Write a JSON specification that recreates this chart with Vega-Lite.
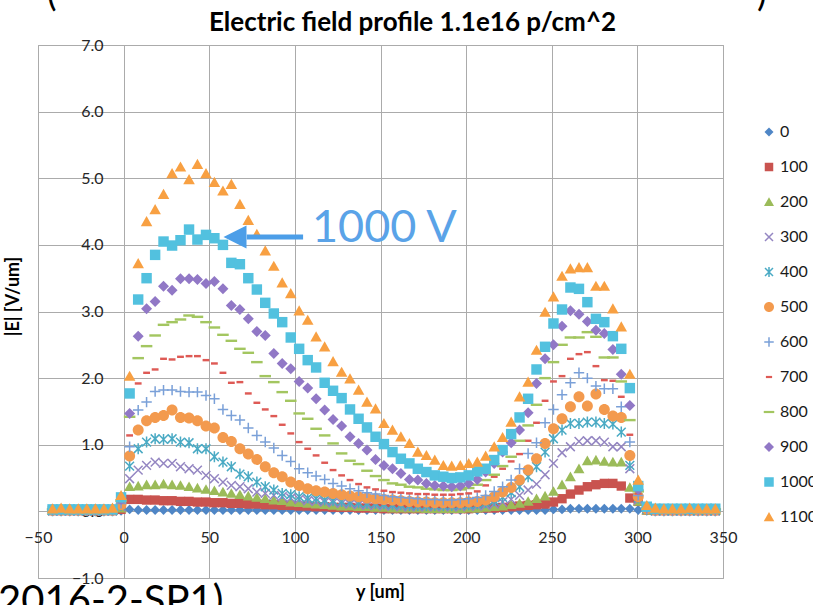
{
"$schema":"https://vega.github.io/schema/vega-lite/v6.json",
"width":685,"height":533,
"autosize":{"type":"none"},
"padding":{"left":38,"top":45,"right":90,"bottom":27},
"background":"white",
"title":{"text":"Electric field profile 1.1e16 p/cm^2","fontSize":26,"font":"Lato","fontWeight":"bold","color":"#000000","anchor":"middle","frame":"group","dx":32,"offset":-59},
"config":{"view":{"stroke":"#A6A6A6","strokeWidth":1},"font":"Lato"},
"layer":[
{"data":{"values":[
{"s":"0","x":-41.5,"y":0},{"s":"0","x":-36.5,"y":0},{"s":"0","x":-31.5,"y":0},{"s":"0","x":-26.5,"y":0},{"s":"0","x":-21.5,"y":0},{"s":"0","x":-16.5,"y":0},{"s":"0","x":-11.5,"y":0},{"s":"0","x":-6.5,"y":0},{"s":"0","x":-1.5,"y":0.01},
{"s":"0","x":3.5,"y":0.03},{"s":"0","x":8.5,"y":0.02},{"s":"0","x":13.4,"y":0.02},{"s":"0","x":18.4,"y":0.02},{"s":"0","x":23.3,"y":0.02},{"s":"0","x":28.3,"y":0.02},{"s":"0","x":33.2,"y":0.02},{"s":"0","x":38.2,"y":0.02},{"s":"0","x":43.1,"y":0.02},{"s":"0","x":48.1,"y":0.02},
{"s":"0","x":53,"y":0.02},{"s":"0","x":58,"y":0.02},{"s":"0","x":62.9,"y":0.02},{"s":"0","x":67.9,"y":0.02},{"s":"0","x":72.8,"y":0.02},{"s":"0","x":77.8,"y":0.02},{"s":"0","x":82.7,"y":0.02},{"s":"0","x":87.7,"y":0.02},{"s":"0","x":92.6,"y":0.02},{"s":"0","x":97.6,"y":0.02},
{"s":"0","x":102.5,"y":0.02},{"s":"0","x":107.5,"y":0.02},{"s":"0","x":112.4,"y":0.02},{"s":"0","x":117.4,"y":0.02},{"s":"0","x":122.3,"y":0.02},{"s":"0","x":127.3,"y":0.02},{"s":"0","x":132.2,"y":0.02},{"s":"0","x":137.2,"y":0.02},{"s":"0","x":142.1,"y":0.02},{"s":"0","x":147.1,"y":0.02},
{"s":"0","x":152,"y":0.02},{"s":"0","x":157,"y":0.02},{"s":"0","x":161.9,"y":0.02},{"s":"0","x":166.9,"y":0.02},{"s":"0","x":171.8,"y":0.02},{"s":"0","x":176.8,"y":0.02},{"s":"0","x":181.7,"y":0.02},{"s":"0","x":186.7,"y":0.02},{"s":"0","x":191.6,"y":0.02},{"s":"0","x":196.6,"y":0.02},
{"s":"0","x":201.5,"y":0.02},{"s":"0","x":206.5,"y":0.02},{"s":"0","x":211.4,"y":0.02},{"s":"0","x":216.4,"y":0.02},{"s":"0","x":221.3,"y":0.02},{"s":"0","x":226.3,"y":0.02},{"s":"0","x":231.2,"y":0.02},{"s":"0","x":236.2,"y":0.02},{"s":"0","x":241.1,"y":0.02},{"s":"0","x":246.1,"y":0.02},
{"s":"0","x":251,"y":0.03},{"s":"0","x":256,"y":0.03},{"s":"0","x":260.9,"y":0.04},{"s":"0","x":265.9,"y":0.04},{"s":"0","x":270.8,"y":0.04},{"s":"0","x":275.8,"y":0.04},{"s":"0","x":280.7,"y":0.04},{"s":"0","x":285.7,"y":0.04},{"s":"0","x":290.6,"y":0.04},{"s":"0","x":295.6,"y":0.04},
{"s":"0","x":300.5,"y":0.02},
{"s":"0","x":305.5,"y":0.01},{"s":"0","x":310.5,"y":0},{"s":"0","x":315.5,"y":0},{"s":"0","x":320.5,"y":0},{"s":"0","x":325.5,"y":0},{"s":"0","x":330.5,"y":0},{"s":"0","x":335.5,"y":0},{"s":"0","x":340.5,"y":0},{"s":"0","x":345.5,"y":0},

{"s":"100","x":-41.5,"y":0.01},{"s":"100","x":-36.5,"y":0.01},{"s":"100","x":-31.5,"y":0.01},{"s":"100","x":-26.5,"y":0.01},{"s":"100","x":-21.5,"y":0.01},{"s":"100","x":-16.5,"y":0.01},{"s":"100","x":-11.5,"y":0.01},{"s":"100","x":-6.5,"y":0.01},{"s":"100","x":-1.5,"y":0.03},
{"s":"100","x":3.5,"y":0.18},{"s":"100","x":8.5,"y":0.18},{"s":"100","x":13.4,"y":0.17},{"s":"100","x":18.4,"y":0.17},{"s":"100","x":23.3,"y":0.16},{"s":"100","x":28.3,"y":0.16},{"s":"100","x":33.2,"y":0.15},{"s":"100","x":38.2,"y":0.15},{"s":"100","x":43.1,"y":0.14},{"s":"100","x":48.1,"y":0.14},
{"s":"100","x":53,"y":0.13},{"s":"100","x":58,"y":0.13},{"s":"100","x":62.9,"y":0.12},{"s":"100","x":67.9,"y":0.12},{"s":"100","x":72.8,"y":0.11},{"s":"100","x":77.8,"y":0.11},{"s":"100","x":82.7,"y":0.1},{"s":"100","x":87.7,"y":0.1},{"s":"100","x":92.6,"y":0.09},{"s":"100","x":97.6,"y":0.09},
{"s":"100","x":102.5,"y":0.08},{"s":"100","x":107.5,"y":0.08},{"s":"100","x":112.4,"y":0.07},{"s":"100","x":117.4,"y":0.07},{"s":"100","x":122.3,"y":0.06},{"s":"100","x":127.3,"y":0.06},{"s":"100","x":132.2,"y":0.06},{"s":"100","x":137.2,"y":0.05},{"s":"100","x":142.1,"y":0.05},{"s":"100","x":147.1,"y":0.05},
{"s":"100","x":152,"y":0.04},{"s":"100","x":157,"y":0.04},{"s":"100","x":161.9,"y":0.04},{"s":"100","x":166.9,"y":0.04},{"s":"100","x":171.8,"y":0.04},{"s":"100","x":176.8,"y":0.04},{"s":"100","x":181.7,"y":0.04},{"s":"100","x":186.7,"y":0.04},{"s":"100","x":191.6,"y":0.04},{"s":"100","x":196.6,"y":0.04},
{"s":"100","x":201.5,"y":0.04},{"s":"100","x":206.5,"y":0.05},{"s":"100","x":211.4,"y":0.05},{"s":"100","x":216.4,"y":0.05},{"s":"100","x":221.3,"y":0.06},{"s":"100","x":226.3,"y":0.07},{"s":"100","x":231.2,"y":0.08},{"s":"100","x":236.2,"y":0.09},{"s":"100","x":241.1,"y":0.1},{"s":"100","x":246.1,"y":0.11},
{"s":"100","x":251,"y":0.14},{"s":"100","x":256,"y":0.19},{"s":"100","x":260.9,"y":0.26},{"s":"100","x":265.9,"y":0.32},{"s":"100","x":270.8,"y":0.37},{"s":"100","x":275.8,"y":0.4},{"s":"100","x":280.7,"y":0.42},{"s":"100","x":285.7,"y":0.42},{"s":"100","x":290.6,"y":0.38},{"s":"100","x":295.6,"y":0.2},
{"s":"100","x":300.5,"y":0.15},
{"s":"100","x":305.5,"y":0.02},{"s":"100","x":310.5,"y":0.01},{"s":"100","x":315.5,"y":0.01},{"s":"100","x":320.5,"y":0.01},{"s":"100","x":325.5,"y":0.01},{"s":"100","x":330.5,"y":0.01},{"s":"100","x":335.5,"y":0.01},{"s":"100","x":340.5,"y":0.01},{"s":"100","x":345.5,"y":0.01},

{"s":"200","x":-41.5,"y":0.01},{"s":"200","x":-36.5,"y":0.01},{"s":"200","x":-31.5,"y":0.01},{"s":"200","x":-26.5,"y":0.01},{"s":"200","x":-21.5,"y":0.01},{"s":"200","x":-16.5,"y":0.01},{"s":"200","x":-11.5,"y":0.01},{"s":"200","x":-6.5,"y":0.01},{"s":"200","x":-1.5,"y":0.05},
{"s":"200","x":3.5,"y":0.37},{"s":"200","x":8.5,"y":0.38},{"s":"200","x":13.4,"y":0.4},{"s":"200","x":18.4,"y":0.4},{"s":"200","x":23.3,"y":0.41},{"s":"200","x":28.3,"y":0.4},{"s":"200","x":33.2,"y":0.39},{"s":"200","x":38.2,"y":0.37},{"s":"200","x":43.1,"y":0.35},{"s":"200","x":48.1,"y":0.33},
{"s":"200","x":53,"y":0.31},{"s":"200","x":58,"y":0.29},{"s":"200","x":62.9,"y":0.27},{"s":"200","x":67.9,"y":0.25},{"s":"200","x":72.8,"y":0.23},{"s":"200","x":77.8,"y":0.21},{"s":"200","x":82.7,"y":0.19},{"s":"200","x":87.7,"y":0.17},{"s":"200","x":92.6,"y":0.16},{"s":"200","x":97.6,"y":0.14},
{"s":"200","x":102.5,"y":0.13},{"s":"200","x":107.5,"y":0.12},{"s":"200","x":112.4,"y":0.11},{"s":"200","x":117.4,"y":0.1},{"s":"200","x":122.3,"y":0.09},{"s":"200","x":127.3,"y":0.08},{"s":"200","x":132.2,"y":0.08},{"s":"200","x":137.2,"y":0.07},{"s":"200","x":142.1,"y":0.07},{"s":"200","x":147.1,"y":0.06},
{"s":"200","x":152,"y":0.06},{"s":"200","x":157,"y":0.05},{"s":"200","x":161.9,"y":0.05},{"s":"200","x":166.9,"y":0.05},{"s":"200","x":171.8,"y":0.05},{"s":"200","x":176.8,"y":0.04},{"s":"200","x":181.7,"y":0.04},{"s":"200","x":186.7,"y":0.04},{"s":"200","x":191.6,"y":0.04},{"s":"200","x":196.6,"y":0.04},
{"s":"200","x":201.5,"y":0.05},{"s":"200","x":206.5,"y":0.05},{"s":"200","x":211.4,"y":0.06},{"s":"200","x":216.4,"y":0.07},{"s":"200","x":221.3,"y":0.08},{"s":"200","x":226.3,"y":0.1},{"s":"200","x":231.2,"y":0.12},{"s":"200","x":236.2,"y":0.15},{"s":"200","x":241.1,"y":0.19},{"s":"200","x":246.1,"y":0.23},
{"s":"200","x":251,"y":0.3},{"s":"200","x":256,"y":0.4},{"s":"200","x":260.9,"y":0.52},{"s":"200","x":265.9,"y":0.64},{"s":"200","x":270.8,"y":0.76},{"s":"200","x":275.8,"y":0.77},{"s":"200","x":280.7,"y":0.75},{"s":"200","x":285.7,"y":0.74},{"s":"200","x":290.6,"y":0.74},{"s":"200","x":295.6,"y":0.36},
{"s":"200","x":300.5,"y":0.15},
{"s":"200","x":305.5,"y":0.02},{"s":"200","x":310.5,"y":0.01},{"s":"200","x":315.5,"y":0.01},{"s":"200","x":320.5,"y":0.01},{"s":"200","x":325.5,"y":0.01},{"s":"200","x":330.5,"y":0.01},{"s":"200","x":335.5,"y":0.01},{"s":"200","x":340.5,"y":0.01},{"s":"200","x":345.5,"y":0.01},

{"s":"300","x":-41.5,"y":0.01},{"s":"300","x":-36.5,"y":0.01},{"s":"300","x":-31.5,"y":0.01},{"s":"300","x":-26.5,"y":0.01},{"s":"300","x":-21.5,"y":0.01},{"s":"300","x":-16.5,"y":0.01},{"s":"300","x":-11.5,"y":0.01},{"s":"300","x":-6.5,"y":0.01},{"s":"300","x":-1.5,"y":0.07},
{"s":"300","x":3.5,"y":0.49},{"s":"300","x":8.5,"y":0.62},{"s":"300","x":13.4,"y":0.69},{"s":"300","x":18.4,"y":0.74},{"s":"300","x":23.3,"y":0.72},{"s":"300","x":28.3,"y":0.72},{"s":"300","x":33.2,"y":0.67},{"s":"300","x":38.2,"y":0.64},{"s":"300","x":43.1,"y":0.62},{"s":"300","x":48.1,"y":0.54},
{"s":"300","x":53,"y":0.49},{"s":"300","x":58,"y":0.44},{"s":"300","x":62.9,"y":0.39},{"s":"300","x":67.9,"y":0.37},{"s":"300","x":72.8,"y":0.34},{"s":"300","x":77.8,"y":0.29},{"s":"300","x":82.7,"y":0.27},{"s":"300","x":87.7,"y":0.24},{"s":"300","x":92.6,"y":0.22},{"s":"300","x":97.6,"y":0.2},
{"s":"300","x":102.5,"y":0.18},{"s":"300","x":107.5,"y":0.16},{"s":"300","x":112.4,"y":0.15},{"s":"300","x":117.4,"y":0.14},{"s":"300","x":122.3,"y":0.13},{"s":"300","x":127.3,"y":0.12},{"s":"300","x":132.2,"y":0.11},{"s":"300","x":137.2,"y":0.1},{"s":"300","x":142.1,"y":0.09},{"s":"300","x":147.1,"y":0.09},
{"s":"300","x":152,"y":0.08},{"s":"300","x":157,"y":0.08},{"s":"300","x":161.9,"y":0.07},{"s":"300","x":166.9,"y":0.07},{"s":"300","x":171.8,"y":0.07},{"s":"300","x":176.8,"y":0.07},{"s":"300","x":181.7,"y":0.07},{"s":"300","x":186.7,"y":0.07},{"s":"300","x":191.6,"y":0.07},{"s":"300","x":196.6,"y":0.07},
{"s":"300","x":201.5,"y":0.08},{"s":"300","x":206.5,"y":0.08},{"s":"300","x":211.4,"y":0.09},{"s":"300","x":216.4,"y":0.11},{"s":"300","x":221.3,"y":0.14},{"s":"300","x":226.3,"y":0.18},{"s":"300","x":231.2,"y":0.24},{"s":"300","x":236.2,"y":0.32},{"s":"300","x":241.1,"y":0.41},{"s":"300","x":246.1,"y":0.55},
{"s":"300","x":251,"y":0.72},{"s":"300","x":256,"y":0.88},{"s":"300","x":260.9,"y":0.97},{"s":"300","x":265.9,"y":1.05},{"s":"300","x":270.8,"y":1.06},{"s":"300","x":275.8,"y":1.06},{"s":"300","x":280.7,"y":1.04},{"s":"300","x":285.7,"y":0.97},{"s":"300","x":290.6,"y":0.97},{"s":"300","x":295.6,"y":0.64},
{"s":"300","x":300.5,"y":0.17},
{"s":"300","x":305.5,"y":0.03},{"s":"300","x":310.5,"y":0.01},{"s":"300","x":315.5,"y":0.01},{"s":"300","x":320.5,"y":0.01},{"s":"300","x":325.5,"y":0.01},{"s":"300","x":330.5,"y":0.01},{"s":"300","x":335.5,"y":0.01},{"s":"300","x":340.5,"y":0.01},{"s":"300","x":345.5,"y":0.01},

{"s":"400","x":-41.5,"y":0.01},{"s":"400","x":-36.5,"y":0.01},{"s":"400","x":-31.5,"y":0.01},{"s":"400","x":-26.5,"y":0.01},{"s":"400","x":-21.5,"y":0.01},{"s":"400","x":-16.5,"y":0.01},{"s":"400","x":-11.5,"y":0.01},{"s":"400","x":-6.5,"y":0.01},{"s":"400","x":-1.5,"y":0.09},
{"s":"400","x":3.5,"y":0.68},{"s":"400","x":8.5,"y":0.94},{"s":"400","x":13.4,"y":1.04},{"s":"400","x":18.4,"y":1.09},{"s":"400","x":23.3,"y":1.08},{"s":"400","x":28.3,"y":1.09},{"s":"400","x":33.2,"y":1.04},{"s":"400","x":38.2,"y":1.03},{"s":"400","x":43.1,"y":0.94},{"s":"400","x":48.1,"y":0.94},
{"s":"400","x":53,"y":0.82},{"s":"400","x":58,"y":0.74},{"s":"400","x":62.9,"y":0.67},{"s":"400","x":67.9,"y":0.56},{"s":"400","x":72.8,"y":0.52},{"s":"400","x":77.8,"y":0.44},{"s":"400","x":82.7,"y":0.37},{"s":"400","x":87.7,"y":0.32},{"s":"400","x":92.6,"y":0.27},{"s":"400","x":97.6,"y":0.25},
{"s":"400","x":102.5,"y":0.22},{"s":"400","x":107.5,"y":0.2},{"s":"400","x":112.4,"y":0.19},{"s":"400","x":117.4,"y":0.17},{"s":"400","x":122.3,"y":0.16},{"s":"400","x":127.3,"y":0.15},{"s":"400","x":132.2,"y":0.14},{"s":"400","x":137.2,"y":0.13},{"s":"400","x":142.1,"y":0.12},{"s":"400","x":147.1,"y":0.12},
{"s":"400","x":152,"y":0.11},{"s":"400","x":157,"y":0.1},{"s":"400","x":161.9,"y":0.1},{"s":"400","x":166.9,"y":0.09},{"s":"400","x":171.8,"y":0.09},{"s":"400","x":176.8,"y":0.09},{"s":"400","x":181.7,"y":0.09},{"s":"400","x":186.7,"y":0.09},{"s":"400","x":191.6,"y":0.09},{"s":"400","x":196.6,"y":0.1},
{"s":"400","x":201.5,"y":0.1},{"s":"400","x":206.5,"y":0.11},{"s":"400","x":211.4,"y":0.13},{"s":"400","x":216.4,"y":0.16},{"s":"400","x":221.3,"y":0.21},{"s":"400","x":226.3,"y":0.28},{"s":"400","x":231.2,"y":0.37},{"s":"400","x":236.2,"y":0.52},{"s":"400","x":241.1,"y":0.67},{"s":"400","x":246.1,"y":0.89},
{"s":"400","x":251,"y":1.09},{"s":"400","x":256,"y":1.22},{"s":"400","x":260.9,"y":1.32},{"s":"400","x":265.9,"y":1.32},{"s":"400","x":270.8,"y":1.34},{"s":"400","x":275.8,"y":1.34},{"s":"400","x":280.7,"y":1.32},{"s":"400","x":285.7,"y":1.31},{"s":"400","x":290.6,"y":1.19},{"s":"400","x":295.6,"y":0.69},
{"s":"400","x":300.5,"y":0.2},
{"s":"400","x":305.5,"y":0.03},{"s":"400","x":310.5,"y":0.01},{"s":"400","x":315.5,"y":0.01},{"s":"400","x":320.5,"y":0.01},{"s":"400","x":325.5,"y":0.01},{"s":"400","x":330.5,"y":0.01},{"s":"400","x":335.5,"y":0.01},{"s":"400","x":340.5,"y":0.01},{"s":"400","x":345.5,"y":0.01},

{"s":"500","x":-41.5,"y":0.02},{"s":"500","x":-36.5,"y":0.02},{"s":"500","x":-31.5,"y":0.02},{"s":"500","x":-26.5,"y":0.02},{"s":"500","x":-21.5,"y":0.02},{"s":"500","x":-16.5,"y":0.02},{"s":"500","x":-11.5,"y":0.02},{"s":"500","x":-6.5,"y":0.02},{"s":"500","x":-1.5,"y":0.1},
{"s":"500","x":3.5,"y":0.83},{"s":"500","x":8.5,"y":1.22},{"s":"500","x":13.4,"y":1.36},{"s":"500","x":18.4,"y":1.41},{"s":"500","x":23.3,"y":1.44},{"s":"500","x":28.3,"y":1.52},{"s":"500","x":33.2,"y":1.41},{"s":"500","x":38.2,"y":1.4},{"s":"500","x":43.1,"y":1.36},{"s":"500","x":48.1,"y":1.28},
{"s":"500","x":53,"y":1.25},{"s":"500","x":58,"y":1.11},{"s":"500","x":62.9,"y":1.05},{"s":"500","x":67.9,"y":0.94},{"s":"500","x":72.8,"y":0.86},{"s":"500","x":77.8,"y":0.78},{"s":"500","x":82.7,"y":0.67},{"s":"500","x":87.7,"y":0.58},{"s":"500","x":92.6,"y":0.52},{"s":"500","x":97.6,"y":0.44},
{"s":"500","x":102.5,"y":0.39},{"s":"500","x":107.5,"y":0.34},{"s":"500","x":112.4,"y":0.31},{"s":"500","x":117.4,"y":0.29},{"s":"500","x":122.3,"y":0.27},{"s":"500","x":127.3,"y":0.25},{"s":"500","x":132.2,"y":0.23},{"s":"500","x":137.2,"y":0.22},{"s":"500","x":142.1,"y":0.2},{"s":"500","x":147.1,"y":0.19},
{"s":"500","x":152,"y":0.18},{"s":"500","x":157,"y":0.17},{"s":"500","x":161.9,"y":0.16},{"s":"500","x":166.9,"y":0.15},{"s":"500","x":171.8,"y":0.14},{"s":"500","x":176.8,"y":0.14},{"s":"500","x":181.7,"y":0.13},{"s":"500","x":186.7,"y":0.13},{"s":"500","x":191.6,"y":0.13},{"s":"500","x":196.6,"y":0.13},
{"s":"500","x":201.5,"y":0.14},{"s":"500","x":206.5,"y":0.15},{"s":"500","x":211.4,"y":0.17},{"s":"500","x":216.4,"y":0.22},{"s":"500","x":221.3,"y":0.29},{"s":"500","x":226.3,"y":0.36},{"s":"500","x":231.2,"y":0.47},{"s":"500","x":236.2,"y":0.62},{"s":"500","x":241.1,"y":0.79},{"s":"500","x":246.1,"y":1.02},
{"s":"500","x":251,"y":1.24},{"s":"500","x":256,"y":1.39},{"s":"500","x":260.9,"y":1.57},{"s":"500","x":265.9,"y":1.72},{"s":"500","x":270.8,"y":1.58},{"s":"500","x":275.8,"y":1.76},{"s":"500","x":280.7,"y":1.53},{"s":"500","x":285.7,"y":1.43},{"s":"500","x":290.6,"y":1.41},{"s":"500","x":295.6,"y":0.84},
{"s":"500","x":300.5,"y":0.22},
{"s":"500","x":305.5,"y":0.04},{"s":"500","x":310.5,"y":0.02},{"s":"500","x":315.5,"y":0.02},{"s":"500","x":320.5,"y":0.02},{"s":"500","x":325.5,"y":0.02},{"s":"500","x":330.5,"y":0.02},{"s":"500","x":335.5,"y":0.02},{"s":"500","x":340.5,"y":0.02},{"s":"500","x":345.5,"y":0.02},

{"s":"600","x":-41.5,"y":0.02},{"s":"600","x":-36.5,"y":0.02},{"s":"600","x":-31.5,"y":0.02},{"s":"600","x":-26.5,"y":0.02},{"s":"600","x":-21.5,"y":0.02},{"s":"600","x":-16.5,"y":0.02},{"s":"600","x":-11.5,"y":0.02},{"s":"600","x":-6.5,"y":0.02},{"s":"600","x":-1.5,"y":0.12},
{"s":"600","x":3.5,"y":0.97},{"s":"600","x":8.5,"y":1.52},{"s":"600","x":13.4,"y":1.64},{"s":"600","x":18.4,"y":1.8},{"s":"600","x":23.3,"y":1.82},{"s":"600","x":28.3,"y":1.82},{"s":"600","x":33.2,"y":1.8},{"s":"600","x":38.2,"y":1.79},{"s":"600","x":43.1,"y":1.79},{"s":"600","x":48.1,"y":1.74},
{"s":"600","x":53,"y":1.69},{"s":"600","x":58,"y":1.53},{"s":"600","x":62.9,"y":1.44},{"s":"600","x":67.9,"y":1.37},{"s":"600","x":72.8,"y":1.25},{"s":"600","x":77.8,"y":1.14},{"s":"600","x":82.7,"y":1.04},{"s":"600","x":87.7,"y":0.95},{"s":"600","x":92.6,"y":0.84},{"s":"600","x":97.6,"y":0.75},
{"s":"600","x":102.5,"y":0.64},{"s":"600","x":107.5,"y":0.58},{"s":"600","x":112.4,"y":0.53},{"s":"600","x":117.4,"y":0.48},{"s":"600","x":122.3,"y":0.42},{"s":"600","x":127.3,"y":0.38},{"s":"600","x":132.2,"y":0.34},{"s":"600","x":137.2,"y":0.31},{"s":"600","x":142.1,"y":0.28},{"s":"600","x":147.1,"y":0.26},
{"s":"600","x":152,"y":0.24},{"s":"600","x":157,"y":0.22},{"s":"600","x":161.9,"y":0.21},{"s":"600","x":166.9,"y":0.2},{"s":"600","x":171.8,"y":0.19},{"s":"600","x":176.8,"y":0.18},{"s":"600","x":181.7,"y":0.18},{"s":"600","x":186.7,"y":0.17},{"s":"600","x":191.6,"y":0.17},{"s":"600","x":196.6,"y":0.18},
{"s":"600","x":201.5,"y":0.19},{"s":"600","x":206.5,"y":0.21},{"s":"600","x":211.4,"y":0.24},{"s":"600","x":216.4,"y":0.3},{"s":"600","x":221.3,"y":0.37},{"s":"600","x":226.3,"y":0.47},{"s":"600","x":231.2,"y":0.64},{"s":"600","x":236.2,"y":0.87},{"s":"600","x":241.1,"y":1.03},{"s":"600","x":246.1,"y":1.33},
{"s":"600","x":251,"y":1.53},{"s":"600","x":256,"y":1.75},{"s":"600","x":260.9,"y":1.93},{"s":"600","x":265.9,"y":2.08},{"s":"600","x":270.8,"y":2.0},{"s":"600","x":275.8,"y":1.88},{"s":"600","x":280.7,"y":1.84},{"s":"600","x":285.7,"y":1.84},{"s":"600","x":290.6,"y":1.57},{"s":"600","x":295.6,"y":1.04},
{"s":"600","x":300.5,"y":0.24},
{"s":"600","x":305.5,"y":0.04},{"s":"600","x":310.5,"y":0.02},{"s":"600","x":315.5,"y":0.02},{"s":"600","x":320.5,"y":0.02},{"s":"600","x":325.5,"y":0.02},{"s":"600","x":330.5,"y":0.02},{"s":"600","x":335.5,"y":0.02},{"s":"600","x":340.5,"y":0.02},{"s":"600","x":345.5,"y":0.02},

{"s":"700","x":-41.5,"y":0.02},{"s":"700","x":-36.5,"y":0.02},{"s":"700","x":-31.5,"y":0.02},{"s":"700","x":-26.5,"y":0.02},{"s":"700","x":-21.5,"y":0.02},{"s":"700","x":-16.5,"y":0.02},{"s":"700","x":-11.5,"y":0.02},{"s":"700","x":-6.5,"y":0.02},{"s":"700","x":-1.5,"y":0.14},
{"s":"700","x":3.5,"y":1.14},{"s":"700","x":8.5,"y":1.92},{"s":"700","x":13.4,"y":2.08},{"s":"700","x":18.4,"y":2.13},{"s":"700","x":23.3,"y":2.29},{"s":"700","x":28.3,"y":2.28},{"s":"700","x":33.2,"y":2.32},{"s":"700","x":38.2,"y":2.33},{"s":"700","x":43.1,"y":2.33},{"s":"700","x":48.1,"y":2.27},
{"s":"700","x":53,"y":2.22},{"s":"700","x":58,"y":2.08},{"s":"700","x":62.9,"y":1.93},{"s":"700","x":67.9,"y":1.94},{"s":"700","x":72.8,"y":1.77},{"s":"700","x":77.8,"y":1.63},{"s":"700","x":82.7,"y":1.53},{"s":"700","x":87.7,"y":1.43},{"s":"700","x":92.6,"y":1.3},{"s":"700","x":97.6,"y":1.17},
{"s":"700","x":102.5,"y":1.04},{"s":"700","x":107.5,"y":0.94},{"s":"700","x":112.4,"y":0.84},{"s":"700","x":117.4,"y":0.73},{"s":"700","x":122.3,"y":0.62},{"s":"700","x":127.3,"y":0.54},{"s":"700","x":132.2,"y":0.47},{"s":"700","x":137.2,"y":0.41},{"s":"700","x":142.1,"y":0.36},{"s":"700","x":147.1,"y":0.33},
{"s":"700","x":152,"y":0.31},{"s":"700","x":157,"y":0.29},{"s":"700","x":161.9,"y":0.28},{"s":"700","x":166.9,"y":0.27},{"s":"700","x":171.8,"y":0.26},{"s":"700","x":176.8,"y":0.26},{"s":"700","x":181.7,"y":0.25},{"s":"700","x":186.7,"y":0.25},{"s":"700","x":191.6,"y":0.25},{"s":"700","x":196.6,"y":0.26},
{"s":"700","x":201.5,"y":0.27},{"s":"700","x":206.5,"y":0.3},{"s":"700","x":211.4,"y":0.39},{"s":"700","x":216.4,"y":0.52},{"s":"700","x":221.3,"y":0.64},{"s":"700","x":226.3,"y":0.75},{"s":"700","x":231.2,"y":0.86},{"s":"700","x":236.2,"y":1.06},{"s":"700","x":241.1,"y":1.33},{"s":"700","x":246.1,"y":1.66},
{"s":"700","x":251,"y":1.95},{"s":"700","x":256,"y":2.03},{"s":"700","x":260.9,"y":2.29},{"s":"700","x":265.9,"y":2.36},{"s":"700","x":270.8,"y":2.39},{"s":"700","x":275.8,"y":2.18},{"s":"700","x":280.7,"y":1.97},{"s":"700","x":285.7,"y":1.96},{"s":"700","x":290.6,"y":1.72},{"s":"700","x":295.6,"y":1.15},
{"s":"700","x":300.5,"y":0.27},
{"s":"700","x":305.5,"y":0.05},{"s":"700","x":310.5,"y":0.02},{"s":"700","x":315.5,"y":0.02},{"s":"700","x":320.5,"y":0.02},{"s":"700","x":325.5,"y":0.02},{"s":"700","x":330.5,"y":0.02},{"s":"700","x":335.5,"y":0.02},{"s":"700","x":340.5,"y":0.02},{"s":"700","x":345.5,"y":0.02},

{"s":"800","x":-41.5,"y":0.03},{"s":"800","x":-36.5,"y":0.03},{"s":"800","x":-31.5,"y":0.03},{"s":"800","x":-26.5,"y":0.03},{"s":"800","x":-21.5,"y":0.03},{"s":"800","x":-16.5,"y":0.03},{"s":"800","x":-11.5,"y":0.03},{"s":"800","x":-6.5,"y":0.03},{"s":"800","x":-1.5,"y":0.16},
{"s":"800","x":3.5,"y":1.42},{"s":"800","x":8.5,"y":2.3},{"s":"800","x":13.4,"y":2.48},{"s":"800","x":18.4,"y":2.64},{"s":"800","x":23.3,"y":2.8},{"s":"800","x":28.3,"y":2.84},{"s":"800","x":33.2,"y":2.88},{"s":"800","x":38.2,"y":2.94},{"s":"800","x":43.1,"y":2.92},{"s":"800","x":48.1,"y":2.84},
{"s":"800","x":53,"y":2.76},{"s":"800","x":58,"y":2.65},{"s":"800","x":62.9,"y":2.56},{"s":"800","x":67.9,"y":2.44},{"s":"800","x":72.8,"y":2.38},{"s":"800","x":77.8,"y":2.24},{"s":"800","x":82.7,"y":2.03},{"s":"800","x":87.7,"y":1.94},{"s":"800","x":92.6,"y":1.79},{"s":"800","x":97.6,"y":1.66},
{"s":"800","x":102.5,"y":1.47},{"s":"800","x":107.5,"y":1.39},{"s":"800","x":112.4,"y":1.24},{"s":"800","x":117.4,"y":1.14},{"s":"800","x":122.3,"y":1.02},{"s":"800","x":127.3,"y":0.87},{"s":"800","x":132.2,"y":0.76},{"s":"800","x":137.2,"y":0.71},{"s":"800","x":142.1,"y":0.61},{"s":"800","x":147.1,"y":0.53},
{"s":"800","x":152,"y":0.47},{"s":"800","x":157,"y":0.42},{"s":"800","x":161.9,"y":0.4},{"s":"800","x":166.9,"y":0.37},{"s":"800","x":171.8,"y":0.36},{"s":"800","x":176.8,"y":0.34},{"s":"800","x":181.7,"y":0.33},{"s":"800","x":186.7,"y":0.32},{"s":"800","x":191.6,"y":0.32},{"s":"800","x":196.6,"y":0.33},
{"s":"800","x":201.5,"y":0.35},{"s":"800","x":206.5,"y":0.4},{"s":"800","x":211.4,"y":0.47},{"s":"800","x":216.4,"y":0.55},{"s":"800","x":221.3,"y":0.68},{"s":"800","x":226.3,"y":0.82},{"s":"800","x":231.2,"y":1.06},{"s":"800","x":236.2,"y":1.29},{"s":"800","x":241.1,"y":1.6},{"s":"800","x":246.1,"y":2.0},
{"s":"800","x":251,"y":2.24},{"s":"800","x":256,"y":2.5},{"s":"800","x":260.9,"y":2.61},{"s":"800","x":265.9,"y":2.61},{"s":"800","x":270.8,"y":2.69},{"s":"800","x":275.8,"y":2.62},{"s":"800","x":280.7,"y":2.31},{"s":"800","x":285.7,"y":2.31},{"s":"800","x":290.6,"y":1.95},{"s":"800","x":295.6,"y":1.37},
{"s":"800","x":300.5,"y":0.3},
{"s":"800","x":305.5,"y":0.05},{"s":"800","x":310.5,"y":0.03},{"s":"800","x":315.5,"y":0.03},{"s":"800","x":320.5,"y":0.03},{"s":"800","x":325.5,"y":0.03},{"s":"800","x":330.5,"y":0.03},{"s":"800","x":335.5,"y":0.03},{"s":"800","x":340.5,"y":0.03},{"s":"800","x":345.5,"y":0.03},

{"s":"900","x":-41.5,"y":0.03},{"s":"900","x":-36.5,"y":0.03},{"s":"900","x":-31.5,"y":0.03},{"s":"900","x":-26.5,"y":0.03},{"s":"900","x":-21.5,"y":0.03},{"s":"900","x":-16.5,"y":0.03},{"s":"900","x":-11.5,"y":0.03},{"s":"900","x":-6.5,"y":0.03},{"s":"900","x":-1.5,"y":0.18},
{"s":"900","x":3.5,"y":1.47},{"s":"900","x":8.5,"y":2.63},{"s":"900","x":13.4,"y":3.04},{"s":"900","x":18.4,"y":3.15},{"s":"900","x":23.3,"y":3.38},{"s":"900","x":28.3,"y":3.32},{"s":"900","x":33.2,"y":3.49},{"s":"900","x":38.2,"y":3.49},{"s":"900","x":43.1,"y":3.48},{"s":"900","x":48.1,"y":3.42},
{"s":"900","x":53,"y":3.45},{"s":"900","x":58,"y":3.34},{"s":"900","x":62.9,"y":3.09},{"s":"900","x":67.9,"y":3.03},{"s":"900","x":72.8,"y":2.89},{"s":"900","x":77.8,"y":2.7},{"s":"900","x":82.7,"y":2.64},{"s":"900","x":87.7,"y":2.37},{"s":"900","x":92.6,"y":2.22},{"s":"900","x":97.6,"y":2.14},
{"s":"900","x":102.5,"y":1.95},{"s":"900","x":107.5,"y":1.85},{"s":"900","x":112.4,"y":1.69},{"s":"900","x":117.4,"y":1.52},{"s":"900","x":122.3,"y":1.38},{"s":"900","x":127.3,"y":1.28},{"s":"900","x":132.2,"y":1.12},{"s":"900","x":137.2,"y":1.02},{"s":"900","x":142.1,"y":0.92},{"s":"900","x":147.1,"y":0.78},
{"s":"900","x":152,"y":0.69},{"s":"900","x":157,"y":0.64},{"s":"900","x":161.9,"y":0.57},{"s":"900","x":166.9,"y":0.48},{"s":"900","x":171.8,"y":0.47},{"s":"900","x":176.8,"y":0.42},{"s":"900","x":181.7,"y":0.39},{"s":"900","x":186.7,"y":0.38},{"s":"900","x":191.6,"y":0.37},{"s":"900","x":196.6,"y":0.38},
{"s":"900","x":201.5,"y":0.42},{"s":"900","x":206.5,"y":0.48},{"s":"900","x":211.4,"y":0.59},{"s":"900","x":216.4,"y":0.72},{"s":"900","x":221.3,"y":0.89},{"s":"900","x":226.3,"y":1.03},{"s":"900","x":231.2,"y":1.22},{"s":"900","x":236.2,"y":1.48},{"s":"900","x":241.1,"y":1.92},{"s":"900","x":246.1,"y":2.29},
{"s":"900","x":251,"y":2.5},{"s":"900","x":256,"y":2.78},{"s":"900","x":260.9,"y":3.01},{"s":"900","x":265.9,"y":2.96},{"s":"900","x":270.8,"y":2.85},{"s":"900","x":275.8,"y":2.72},{"s":"900","x":280.7,"y":2.67},{"s":"900","x":285.7,"y":2.43},{"s":"900","x":290.6,"y":2.06},{"s":"900","x":295.6,"y":1.59},
{"s":"900","x":300.5,"y":0.33},
{"s":"900","x":305.5,"y":0.06},{"s":"900","x":310.5,"y":0.03},{"s":"900","x":315.5,"y":0.03},{"s":"900","x":320.5,"y":0.03},{"s":"900","x":325.5,"y":0.03},{"s":"900","x":330.5,"y":0.03},{"s":"900","x":335.5,"y":0.03},{"s":"900","x":340.5,"y":0.03},{"s":"900","x":345.5,"y":0.03},

{"s":"1000","x":-41.5,"y":0.03},{"s":"1000","x":-36.5,"y":0.03},{"s":"1000","x":-31.5,"y":0.03},{"s":"1000","x":-26.5,"y":0.03},{"s":"1000","x":-21.5,"y":0.03},{"s":"1000","x":-16.5,"y":0.03},{"s":"1000","x":-11.5,"y":0.03},{"s":"1000","x":-6.5,"y":0.03},{"s":"1000","x":-1.5,"y":0.21},
{"s":"1000","x":3.5,"y":1.77},{"s":"1000","x":8.5,"y":3.18},{"s":"1000","x":13.4,"y":3.5},{"s":"1000","x":18.4,"y":3.85},{"s":"1000","x":23.3,"y":4.05},{"s":"1000","x":28.3,"y":3.99},{"s":"1000","x":33.2,"y":4.07},{"s":"1000","x":38.2,"y":4.23},{"s":"1000","x":43.1,"y":4.08},{"s":"1000","x":48.1,"y":4.15},
{"s":"1000","x":53,"y":4.1},{"s":"1000","x":58,"y":4.0},{"s":"1000","x":62.9,"y":3.73},{"s":"1000","x":67.9,"y":3.71},{"s":"1000","x":72.8,"y":3.5},{"s":"1000","x":77.8,"y":3.33},{"s":"1000","x":82.7,"y":3.13},{"s":"1000","x":87.7,"y":2.97},{"s":"1000","x":92.6,"y":2.84},{"s":"1000","x":97.6,"y":2.61},
{"s":"1000","x":102.5,"y":2.44},{"s":"1000","x":107.5,"y":2.27},{"s":"1000","x":112.4,"y":2.16},{"s":"1000","x":117.4,"y":1.93},{"s":"1000","x":122.3,"y":1.81},{"s":"1000","x":127.3,"y":1.7},{"s":"1000","x":132.2,"y":1.53},{"s":"1000","x":137.2,"y":1.39},{"s":"1000","x":142.1,"y":1.26},{"s":"1000","x":147.1,"y":1.12},
{"s":"1000","x":152,"y":1.01},{"s":"1000","x":157,"y":0.89},{"s":"1000","x":161.9,"y":0.79},{"s":"1000","x":166.9,"y":0.72},{"s":"1000","x":171.8,"y":0.64},{"s":"1000","x":176.8,"y":0.59},{"s":"1000","x":181.7,"y":0.54},{"s":"1000","x":186.7,"y":0.52},{"s":"1000","x":191.6,"y":0.5},{"s":"1000","x":196.6,"y":0.51},
{"s":"1000","x":201.5,"y":0.54},{"s":"1000","x":206.5,"y":0.6},{"s":"1000","x":211.4,"y":0.64},{"s":"1000","x":216.4,"y":0.77},{"s":"1000","x":221.3,"y":0.92},{"s":"1000","x":226.3,"y":1.16},{"s":"1000","x":231.2,"y":1.41},{"s":"1000","x":236.2,"y":1.69},{"s":"1000","x":241.1,"y":2.13},{"s":"1000","x":246.1,"y":2.47},
{"s":"1000","x":251,"y":2.82},{"s":"1000","x":256,"y":3.03},{"s":"1000","x":260.9,"y":3.36},{"s":"1000","x":265.9,"y":3.34},{"s":"1000","x":270.8,"y":3.14},{"s":"1000","x":275.8,"y":2.89},{"s":"1000","x":280.7,"y":2.84},{"s":"1000","x":285.7,"y":2.63},{"s":"1000","x":290.6,"y":2.44},{"s":"1000","x":295.6,"y":1.85},
{"s":"1000","x":300.5,"y":0.38},
{"s":"1000","x":305.5,"y":0.07},{"s":"1000","x":310.5,"y":0.04},{"s":"1000","x":315.5,"y":0.04},{"s":"1000","x":320.5,"y":0.04},{"s":"1000","x":325.5,"y":0.04},{"s":"1000","x":330.5,"y":0.04},{"s":"1000","x":335.5,"y":0.04},{"s":"1000","x":340.5,"y":0.04},{"s":"1000","x":345.5,"y":0.04},

{"s":"1100","x":-41.5,"y":0.04},{"s":"1100","x":-36.5,"y":0.05},{"s":"1100","x":-31.5,"y":0.04},{"s":"1100","x":-26.5,"y":0.04},{"s":"1100","x":-21.5,"y":0.04},{"s":"1100","x":-16.5,"y":0.04},{"s":"1100","x":-11.5,"y":0.04},{"s":"1100","x":-6.5,"y":0.05},{"s":"1100","x":-1.5,"y":0.24},
{"s":"1100","x":3.5,"y":2.03},{"s":"1100","x":8.5,"y":3.72},{"s":"1100","x":13.4,"y":4.35},{"s":"1100","x":18.4,"y":4.53},{"s":"1100","x":23.3,"y":4.76},{"s":"1100","x":28.3,"y":5.07},{"s":"1100","x":33.2,"y":5.17},{"s":"1100","x":38.2,"y":4.98},{"s":"1100","x":43.1,"y":5.21},{"s":"1100","x":48.1,"y":5.07},
{"s":"1100","x":53,"y":4.94},{"s":"1100","x":58,"y":4.81},{"s":"1100","x":62.9,"y":4.91},{"s":"1100","x":67.9,"y":4.61},{"s":"1100","x":72.8,"y":4.37},{"s":"1100","x":77.8,"y":4.16},{"s":"1100","x":82.7,"y":3.91},{"s":"1100","x":87.7,"y":3.68},{"s":"1100","x":92.6,"y":3.43},{"s":"1100","x":97.6,"y":3.27},
{"s":"1100","x":102.5,"y":3.01},{"s":"1100","x":107.5,"y":2.87},{"s":"1100","x":112.4,"y":2.62},{"s":"1100","x":117.4,"y":2.47},{"s":"1100","x":122.3,"y":2.25},{"s":"1100","x":127.3,"y":2.09},{"s":"1100","x":132.2,"y":1.99},{"s":"1100","x":137.2,"y":1.82},{"s":"1100","x":142.1,"y":1.64},{"s":"1100","x":147.1,"y":1.54},
{"s":"1100","x":152,"y":1.32},{"s":"1100","x":157,"y":1.22},{"s":"1100","x":161.9,"y":1.12},{"s":"1100","x":166.9,"y":1.02},{"s":"1100","x":171.8,"y":0.89},{"s":"1100","x":176.8,"y":0.84},{"s":"1100","x":181.7,"y":0.77},{"s":"1100","x":186.7,"y":0.69},{"s":"1100","x":191.6,"y":0.68},{"s":"1100","x":196.6,"y":0.69},
{"s":"1100","x":201.5,"y":0.72},{"s":"1100","x":206.5,"y":0.74},{"s":"1100","x":211.4,"y":0.83},{"s":"1100","x":216.4,"y":0.97},{"s":"1100","x":221.3,"y":1.11},{"s":"1100","x":226.3,"y":1.34},{"s":"1100","x":231.2,"y":1.72},{"s":"1100","x":236.2,"y":1.94},{"s":"1100","x":241.1,"y":2.42},{"s":"1100","x":246.1,"y":2.99},
{"s":"1100","x":251,"y":3.22},{"s":"1100","x":256,"y":3.53},{"s":"1100","x":260.9,"y":3.64},{"s":"1100","x":265.9,"y":3.66},{"s":"1100","x":270.8,"y":3.66},{"s":"1100","x":275.8,"y":3.38},{"s":"1100","x":280.7,"y":3.38},{"s":"1100","x":285.7,"y":3.04},{"s":"1100","x":290.6,"y":2.77},{"s":"1100","x":295.6,"y":2.06},
{"s":"1100","x":300.5,"y":0.47},
{"s":"1100","x":305.5,"y":0.09},{"s":"1100","x":310.5,"y":0.05},{"s":"1100","x":315.5,"y":0.04},{"s":"1100","x":320.5,"y":0.04},{"s":"1100","x":325.5,"y":0.04},{"s":"1100","x":330.5,"y":0.05},{"s":"1100","x":335.5,"y":0.04},{"s":"1100","x":340.5,"y":0.04},{"s":"1100","x":345.5,"y":0.04}
]},
"mark":{"type":"point","opacity":1,"strokeWidth":1.5,"size":121},
"encoding":{
"x":{"field":"x","type":"quantitative","scale":{"domain":[-50,350],"nice":false,"zero":false},
"axis":{"values":[-50,0,50,100,150,200,250,300,350],"format":"d","title":"y [um]","grid":true,"gridColor":"#ABABAB","gridWidth":1,"domain":false,"ticks":false,"tickSize":0,"labelPadding":-49,"labelFontSize":16,"labelFont":"Lato","labelColor":"#262626","labelFlush":false,"labelOverlap":false,"labelBound":false,"titleFont":"Lato","titleFontSize":18,"titleFontWeight":"bold","titleColor":"#000000","titleX":342,"titleY":14,"titleBaseline":"middle","titleAlign":"center"}},
"y":{"field":"y","type":"quantitative","scale":{"domain":[-1,7],"nice":false,"zero":false},
"axis":{"values":[-1,0,1,2,3,4,5,6,7],"format":".1f","title":"|E| [V/um]","grid":true,"gridColor":"#ABABAB","gridWidth":1,"domain":false,"ticks":false,"tickSize":0,"labelPadding":-65,"labelFontSize":16,"labelFont":"Lato","labelColor":"#262626","labelFlush":false,"labelOverlap":false,"labelBound":false,"titleFont":"Lato","titleFontSize":18,"titleFontWeight":"bold","titleColor":"#000000","titleAngle":-90,"titleX":-25,"titleY":251,"titleBaseline":"middle","titleAlign":"center"}},
"shape":{"field":"s","type":"nominal","scale":{"domain":["0","100","200","300","400","500","600","700","800","900","1000","1100"],"range":["M0,-0.9L0.9,0L0,0.9L-0.9,0Z","M-0.85,-0.85L0.85,-0.85L0.85,0.85L-0.85,0.85Z","M0,-0.95L1,0.8L-1,0.8Z","M-0.8,-0.8L0.8,0.8M-0.8,0.8L0.8,-0.8","M-0.8,-0.8L0.8,0.8M-0.8,0.8L0.8,-0.8M0,-1L0,1","M1,0A1,1,0,1,1,-1,0A1,1,0,1,1,1,0Z","M-0.95,0L0.95,0M0,-0.95L0,0.95","M-0.62,-0.22L0.62,-0.22L0.62,0.22L-0.62,0.22Z","M-1.05,-0.22L1.05,-0.22L1.05,0.22L-1.05,0.22Z","M0,-1L1,0L0,1L-1,0Z","M-0.95,-0.95L0.95,-0.95L0.95,0.95L-0.95,0.95Z","M0,-1L1.05,0.85L-1.05,0.85Z"]},
"legend":{"title":null,"orient":"none","legendX":723,"legendY":79,"labelFontSize":16,"labelFont":"Lato","labelColor":"#1a1a1a","symbolSize":100,"rowPadding":19,"labelOffset":3,"padding":0,"symbolStrokeWidth":1.5}},
"fill":{"field":"s","type":"nominal","scale":{"domain":["0","100","200","300","400","500","600","700","800","900","1000","1100"],"range":["#4F86C6","#C9534F","#9BBB59","transparent","transparent","#F39A4E","transparent","#DE5A55","#A3C660","#9178C6","#52C1DF","#F8A042"]},
"legend":{"title":null,"orient":"none","legendX":723,"legendY":79,"labelFontSize":16,"labelFont":"Lato","labelColor":"#1a1a1a","symbolSize":100,"rowPadding":19,"labelOffset":3,"padding":0,"symbolStrokeWidth":1.5}},
"stroke":{"field":"s","type":"nominal","scale":{"domain":["0","100","200","300","400","500","600","700","800","900","1000","1100"],"range":["transparent","transparent","transparent","#9486C2","#4AAAC4","transparent","#7AA0D8","transparent","transparent","transparent","transparent","transparent"]},
"legend":{"title":null,"orient":"none","legendX":723,"legendY":79,"labelFontSize":16,"labelFont":"Lato","labelColor":"#1a1a1a","symbolSize":100,"rowPadding":19,"labelOffset":3,"padding":0,"symbolStrokeWidth":1.5}}
}},
{"data":{"values":[{"x":71.9,"x2":104.8,"y":4.12}]},
"mark":{"type":"rule","color":"#4C9EE8","strokeWidth":5},
"encoding":{"x":{"field":"x","type":"quantitative"},"x2":{"field":"x2"},"y":{"field":"y","type":"quantitative"}}},
{"data":{"values":[{"x":65.05,"y":4.12}]},
"mark":{"type":"point","shape":"M-1,0L1,-1L1,1Z","size":529,"filled":true,"color":"#4C9EE8","opacity":1,"strokeWidth":0},
"encoding":{"x":{"field":"x","type":"quantitative"},"y":{"field":"y","type":"quantitative"}}},
{"data":{"values":[{"x":110,"y":4.25,"label":"1000 V"}]},
"mark":{"type":"text","align":"left","baseline":"middle","fontSize":45,"color":"#5AA3E8","font":"Lato"},
"encoding":{"x":{"field":"x","type":"quantitative"},"y":{"field":"y","type":"quantitative"},"text":{"field":"label"}}},
{"data":{"values":[{"x":-73.3,"y":-1.54,"label":"2016-2-SP1)"}]},
"mark":{"type":"text","align":"left","baseline":"alphabetic","fontSize":40,"color":"#000000","font":"Lato"},
"encoding":{"x":{"field":"x","type":"quantitative"},"y":{"field":"y","type":"quantitative"},"text":{"field":"label"}}},
{"data":{"values":[{"x":-44.7,"y":7.584,"label":"("},{"x":369.9,"y":7.584,"label":")"}]},
"mark":{"type":"text","align":"left","baseline":"alphabetic","fontSize":36,"color":"#000000","font":"Lato"},
"encoding":{"x":{"field":"x","type":"quantitative"},"y":{"field":"y","type":"quantitative"},"text":{"field":"label"}}}
]
}
